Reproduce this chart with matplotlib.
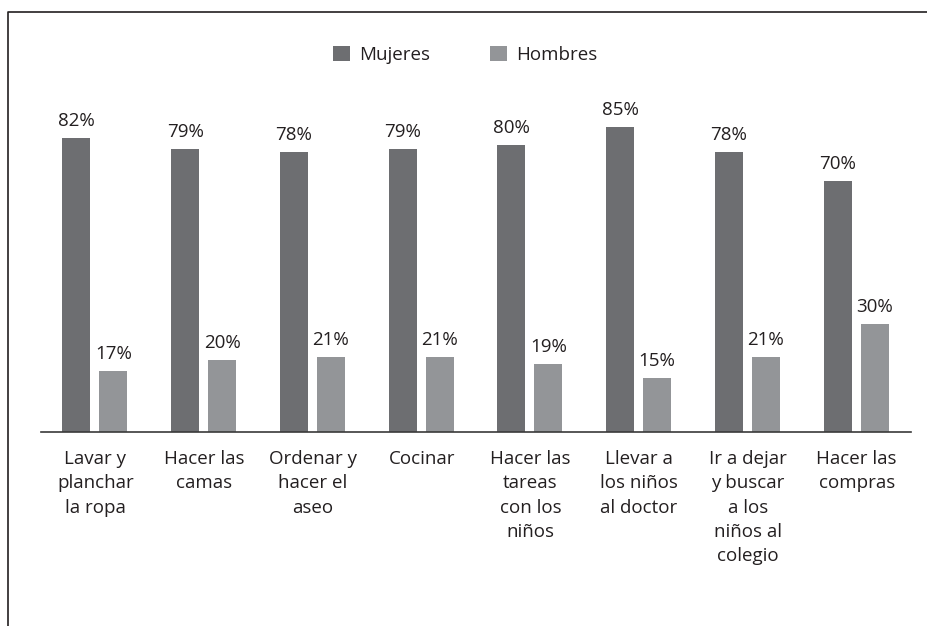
import numpy as np
import matplotlib.pyplot as plt
from matplotlib.lines import Line2D

categorias = [
    "Lavar y\nplanchar\nla ropa",
    "Hacer las\ncamas",
    "Ordenar y\nhacer el\naseo",
    "Cocinar",
    "Hacer las\ntareas\ncon los\nniños",
    "Llevar a\nlos niños\nal doctor",
    "Ir a dejar\ny buscar\na los\nniños al\ncolegio",
    "Hacer las\ncompras",
]
mujeres = [82, 79, 78, 79, 80, 85, 78, 70]
hombres = [17, 20, 21, 21, 19, 15, 21, 30]

color_m = "#6d6e71"
color_h = "#939598"
texto = "#231f20"
fs = 13.5

plt.rcParams['font.family'] = ['Open Sans', 'DejaVu Sans']

W, H = 927, 626
fig = plt.figure(figsize=(W / 100, H / 100), dpi=100)

# axes placed in pixel terms: baseline at y=432, 100% at y=73.5
left, right = 41, 911
px_por_pct = 3.585
base_y, top_y = 432, 432 - px_por_pct * 100
ax = fig.add_axes([left / W, 1 - base_y / H, (right - left) / W, (base_y - top_y) / H])

x = np.arange(len(categorias)) + 0.5
ancho = 0.257
ax.bar(x - 0.175, mujeres, ancho, color=color_m, label="Mujeres")
ax.bar(x + 0.165, hombres, ancho, color=color_h, label="Hombres")

off = 12 / px_por_pct
for xi, v in zip(x - 0.175, mujeres):
    ax.text(xi, v + off, f"{v}%", ha="center", va="baseline", fontsize=fs, color=texto)
for xi, v in zip(x + 0.165, hombres):
    ax.text(xi, v + off, f"{v}%", ha="center", va="baseline", fontsize=fs, color=texto)

ax.set_xlim(0, len(categorias))
ax.set_ylim(0, 100)
ax.set_xticks(x)
ax.set_xticklabels(categorias, fontsize=fs, color=texto, linespacing=1.45, va="top")
ax.tick_params(axis="x", length=0, pad=13)
ax.set_yticks([])
for s in ["top", "right", "left"]:
    ax.spines[s].set_visible(False)
ax.spines["bottom"].set_color("#3a3a3a")
ax.spines["bottom"].set_linewidth(1.2)

ax.legend(loc="center", bbox_to_anchor=(465 / W, 1 - 55 / H), bbox_transform=fig.transFigure,
          ncol=2, frameon=False, fontsize=fs, handlelength=0.9, handleheight=0.9,
          handletextpad=0.5, columnspacing=3.2, labelcolor=texto)

# open frame: left and top edges only
fig.add_artist(Line2D([8 / W, 8 / W, 1.0], [0.0, 1 - 12 / H, 1 - 12 / H],
                      transform=fig.transFigure, color="#231f20", linewidth=1.2))

fig.savefig("out.png", dpi=100)
